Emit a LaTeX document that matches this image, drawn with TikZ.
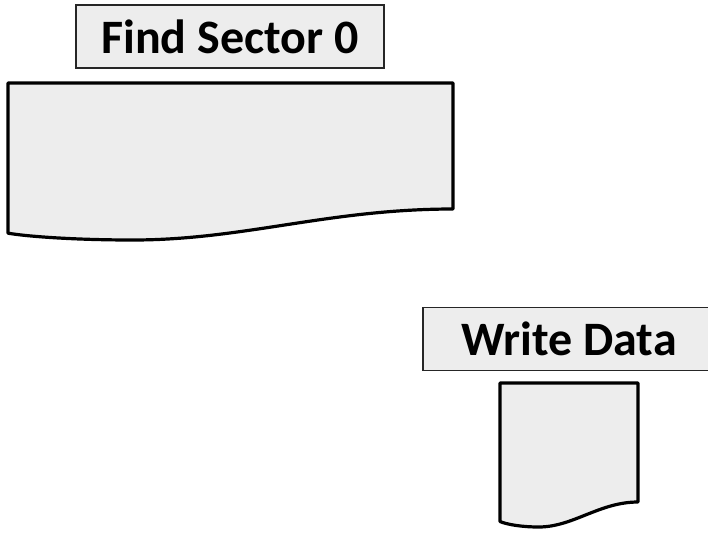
\documentclass[tikz,border=0pt]{standalone}
\usepackage{fontspec}
\setmainfont{Carlito}
\usetikzlibrary{positioning}
\definecolor{boxgray}{HTML}{EDEDED}

\begin{document}
\begin{tikzpicture}[x=0.5pt,y=-0.5pt,
        title/.style={draw=black!85,line width=0.6pt,fill=boxgray,inner sep=0pt,
                minimum height=31.5pt,font=\fontsize{24}{28}\selectfont\bfseries},
        docline/.style={draw=black,line width=1.6pt,fill=boxgray,line join=round},
        pics/docshape/.style n args={3}{code={
                \draw[docline] (0,0) -- (#1,0) -- (#1,#2)
                .. controls (0.72*#1,#2) and (0.53*#1,#2+#3) .. (0.28*#1,#2+#3)
                .. controls (0.16*#1,#2+#3) and (0.05*#1,#2+0.9*#3) .. (0,#2+0.78*#3)
                -- cycle;
            }}]
    \useasboundingbox (0,0) rectangle (708,532);
    % upper step
    \node[title,minimum width=154pt] (findsector) at (230,36.5) {Find Sector 0};
    \pic (sectordoc) at (8,83) {docshape={445}{126}{31}};
    % lower step
    \node[title,minimum width=146pt] (writedata) at (569,339) {Write Data};
    \pic (datadoc) at (500,383) {docshape={138}{119}{25}};
\end{tikzpicture}
\end{document}
